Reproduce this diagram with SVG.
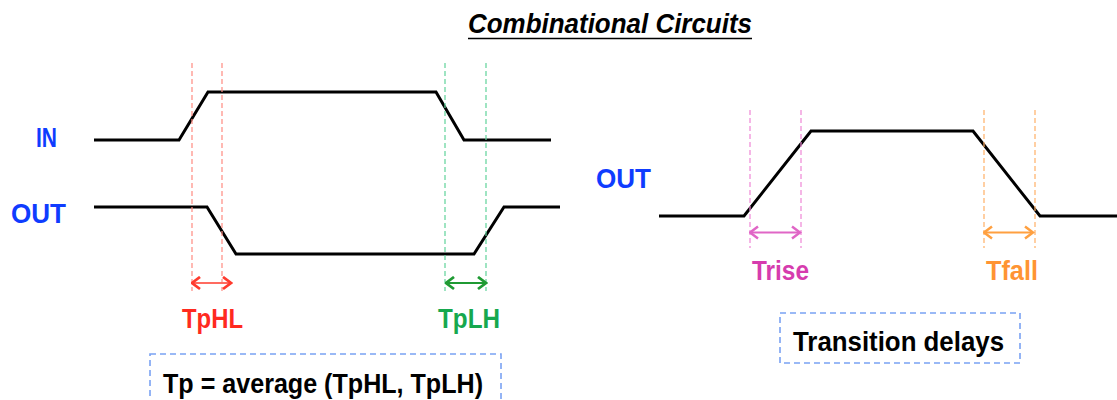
<svg xmlns="http://www.w3.org/2000/svg" width="1117" height="400" viewBox="0 0 1117 400">
  <style>
    .lbl { font-family: "Liberation Sans", Arial, sans-serif; font-weight: bold; font-size: 27px; }
    .blue { fill: #0f3cff; }
    .wave { fill: none; stroke: #000; stroke-width: 3; stroke-linejoin: miter; }
    .guide { stroke-width: 1.2; stroke-dasharray: 5 3; fill: none; }
    .dim { stroke-width: 1.8; fill: none; }
    .box { fill: none; stroke: #7aa2f3; stroke-width: 1.6; stroke-dasharray: 6 4; }
  </style>
  <defs>
    <marker id="hRed" viewBox="0 0 11 15" markerUnits="userSpaceOnUse" markerWidth="11" markerHeight="15" refX="9.5" refY="7.5" orient="auto-start-reverse">
      <path d="M1.5,1.5 L9.5,7.5 L1.5,13.5" fill="none" stroke="#ff3b2e" stroke-width="2.8"/>
    </marker>
    <marker id="hGreen" viewBox="0 0 11 15" markerUnits="userSpaceOnUse" markerWidth="11" markerHeight="15" refX="9.5" refY="7.5" orient="auto-start-reverse">
      <path d="M1.5,1.5 L9.5,7.5 L1.5,13.5" fill="none" stroke="#1f9a33" stroke-width="2.8"/>
    </marker>
    <marker id="hPink" viewBox="0 0 11 15" markerUnits="userSpaceOnUse" markerWidth="11" markerHeight="15" refX="9.5" refY="7.5" orient="auto-start-reverse">
      <path d="M1.5,1.5 L9.5,7.5 L1.5,13.5" fill="none" stroke="#e066c6" stroke-width="2.5"/>
    </marker>
    <marker id="hOrange" viewBox="0 0 11 15" markerUnits="userSpaceOnUse" markerWidth="11" markerHeight="15" refX="9.5" refY="7.5" orient="auto-start-reverse">
      <path d="M1.5,1.5 L9.5,7.5 L1.5,13.5" fill="none" stroke="#ffa040" stroke-width="2.5"/>
    </marker>
  </defs>
  <rect width="1117" height="400" fill="#fff"/>

  <g id="title">
    <text class="lbl" x="610" y="33" text-anchor="middle" font-style="italic" font-size="25" textLength="284" lengthAdjust="spacingAndGlyphs" fill="#000">Combinational Circuits</text>
    <line x1="468" y1="38.5" x2="752" y2="38.5" stroke="#000" stroke-width="1.5"/>
  </g>

  <g id="left-diagram">
    <g id="in-label"><text class="lbl blue" x="36" y="147" textLength="21" lengthAdjust="spacingAndGlyphs">IN</text></g>
    <g id="out-label-left"><text class="lbl blue" x="11" y="223" textLength="55" lengthAdjust="spacingAndGlyphs">OUT</text></g>
    <g id="in-wave"><polyline class="wave" points="94,140 179,140 208,92 436,92 464,140 551,140"/></g>
    <g id="out-wave"><polyline class="wave" points="94,207 207,207 236,254 474,254 504,207 560,207"/></g>
  </g>

  <g id="right-diagram">
    <g id="out-label-right"><text class="lbl blue" x="596" y="188" textLength="55" lengthAdjust="spacingAndGlyphs">OUT</text></g>
    <g id="out-wave-right"><polyline class="wave" points="659,216 744,216 811,131 973,131 1040,216 1117,216"/></g>
  </g>

  <g id="connectors">
    <line class="guide" x1="192" y1="63" x2="192" y2="291" stroke="#ff8a80"/>
    <line class="guide" x1="222" y1="63" x2="222" y2="291" stroke="#ff8a80"/>
    <line class="guide" x1="445" y1="63" x2="445" y2="291" stroke="#5fd39a"/>
    <line class="guide" x1="486" y1="63" x2="486" y2="291" stroke="#5fd39a"/>
    <line class="guide" x1="750" y1="110" x2="750" y2="248" stroke="#ee86d6"/>
    <line class="guide" x1="801" y1="110" x2="801" y2="248" stroke="#ee86d6"/>
    <line class="guide" x1="984" y1="110" x2="984" y2="248" stroke="#ffb066"/>
    <line class="guide" x1="1035" y1="110" x2="1035" y2="248" stroke="#ffb066"/>

    <line class="dim" x1="192" y1="283" x2="231" y2="283" stroke="#ff6b60" marker-start="url(#hRed)" marker-end="url(#hRed)"/>
    <line class="dim" x1="446" y1="283" x2="486" y2="283" stroke="#1f9a33" marker-start="url(#hGreen)" marker-end="url(#hGreen)"/>
    <line class="dim" x1="750" y1="232.5" x2="800" y2="232.5" stroke="#e066c6" marker-start="url(#hPink)" marker-end="url(#hPink)"/>
    <line class="dim" x1="984" y1="232.5" x2="1033" y2="232.5" stroke="#ffa040" marker-start="url(#hOrange)" marker-end="url(#hOrange)"/>
  </g>

  <g id="tphl"><text class="lbl" x="182" y="328" textLength="61" lengthAdjust="spacingAndGlyphs" fill="#ff2a1f">TpHL</text></g>
  <g id="tplh"><text class="lbl" x="438" y="328" textLength="62" lengthAdjust="spacingAndGlyphs" fill="#16a84e">TpLH</text></g>
  <g id="trise"><text class="lbl" x="752" y="280" textLength="57" lengthAdjust="spacingAndGlyphs" fill="#d63cae">Trise</text></g>
  <g id="tfall"><text class="lbl" x="986" y="280" textLength="52" lengthAdjust="spacingAndGlyphs" fill="#ff9433">Tfall</text></g>

  <g id="tp-box">
    <rect class="box" x="150" y="354" width="351" height="60"/>
    <text class="lbl" x="163" y="393" textLength="320" lengthAdjust="spacingAndGlyphs" fill="#000">Tp = average (TpHL, TpLH)</text>
  </g>
  <g id="transition-box">
    <rect class="box" x="780" y="313" width="240" height="50"/>
    <text class="lbl" x="793" y="351" textLength="211" lengthAdjust="spacingAndGlyphs" fill="#000">Transition delays</text>
  </g>
</svg>
